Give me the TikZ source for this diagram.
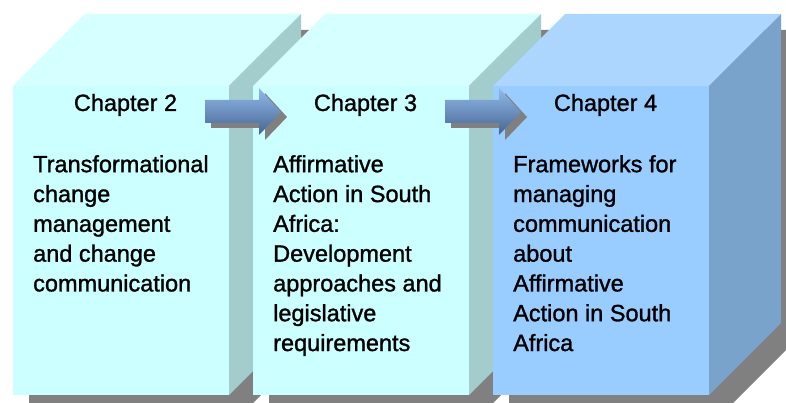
\documentclass[tikz,border=0pt]{standalone}
\usepackage{fontspec}
\setmainfont{Liberation Sans}
\newfontfamily\chapfont[FakeBold=1.2]{Liberation Sans}
\usepackage{xcolor}
\usetikzlibrary{positioning}
\definecolor{cyanfront}{RGB}{204,255,255}
\definecolor{cyantop}{RGB}{214,255,255}
\definecolor{cyanside}{RGB}{163,204,204}
\definecolor{bluefront}{RGB}{153,204,255}
\definecolor{bluetop}{RGB}{173,214,255}
\definecolor{blueside}{RGB}{122,163,204}
\definecolor{boxshadow}{RGB}{128,128,128}
\definecolor{arrowtop}{RGB}{145,186,235}
\definecolor{arrowbottom}{RGB}{70,100,145}
\tikzset{
  heading/.style={anchor=base,inner sep=0pt},
  bodytext/.style={anchor=north west,inner sep=0pt,align=left},
  arrowfill/.style={top color=arrowtop,bottom color=arrowbottom}
}

\begin{document}
\begin{tikzpicture}[x=1pt,y=-1pt,font=\chapfont\fontsize{23.5}{29.8}\selectfont]
\useasboundingbox (0,0) rectangle (786,403);
\clip (0,0) rectangle (786,403);
% Box 1
\fill[boxshadow] (29,102) -- (101,30) -- (317,30) -- (317,339) -- (245,411) -- (29,411) -- cycle; % shadow
\fill[cyanfront] (13,86) rectangle (229,395); % front
\fill[cyantop] (13,86) -- (85,14) -- (301,14) -- (229,86) -- cycle; % top
\fill[cyanside] (229,86) -- (301,14) -- (301,323) -- (229,395) -- cycle; % side
% Box 2
\fill[boxshadow] (269,102) -- (341,30) -- (557,30) -- (557,339) -- (485,411) -- (269,411) -- cycle; % shadow
\fill[cyanfront] (253,86) rectangle (469,395); % front
\fill[cyantop] (253,86) -- (325,14) -- (541,14) -- (469,86) -- cycle; % top
\fill[cyanside] (469,86) -- (541,14) -- (541,323) -- (469,395) -- cycle; % side
% Box 3
\fill[boxshadow] (509,102) -- (581,30) -- (797,30) -- (797,339) -- (725,411) -- (509,411) -- cycle; % shadow
\fill[bluefront] (493,86) rectangle (709,395); % front
\fill[bluetop] (493,86) -- (565,14) -- (781,14) -- (709,86) -- cycle; % top
\fill[blueside] (709,86) -- (781,14) -- (781,323) -- (709,395) -- cycle; % side
% Arrows
\fill[boxshadow] (211,105) -- (265,105) -- (265,93) -- (287,117) -- (265,140) -- (265,128) -- (211,128) -- cycle;
\shade[arrowfill] (205,100) -- (259,100) -- (259,88) -- (281,112) -- (259,135) -- (259,123) -- (205,123) -- cycle;
\fill[boxshadow] (451,105) -- (505,105) -- (505,93) -- (527,117) -- (505,140) -- (505,128) -- (451,128) -- cycle;
\shade[arrowfill] (445,100) -- (499,100) -- (499,88) -- (521,112) -- (499,135) -- (499,123) -- (445,123) -- cycle;
% Labels
\node[heading] (ch2) at (125.5,111) {Chapter 2};
\node[heading] (ch3) at (365.5,111) {Chapter 3};
\node[heading] (ch4) at (605.5,111) {Chapter 4};
% Contents
\node[bodytext] (txt2) at (33,155) {Transformational\\change\\management\\and change\\communication};
\node[bodytext] (txt3) at (273,155) {Affirmative\\Action in South\\Africa:\\Development\\approaches and\\legislative\\requirements};
\node[bodytext] (txt4) at (513,155) {Frameworks for\\managing\\communication\\about\\Affirmative\\Action in South\\Africa};
\end{tikzpicture}
\end{document}
